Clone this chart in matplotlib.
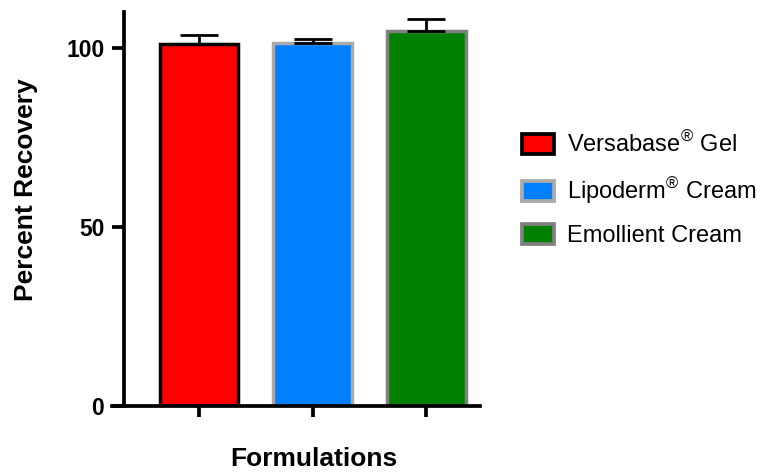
import numpy as np
import matplotlib.pyplot as plt
from matplotlib.patches import Patch

plt.rcParams['font.family'] = ['Liberation Sans', 'DejaVu Sans']
plt.rcParams['mathtext.fontset'] = 'custom'
plt.rcParams['mathtext.rm'] = 'Liberation Sans'

# donnees
formulations = ["Versabase$^{®}$ Gel", "Lipoderm$^{®}$ Cream", "Emollient Cream"]
recovery = [101.0, 101.2, 104.6]
erreur = [2.6, 1.2, 3.4]

couleurs = ['#ff0000', '#0080ff', '#008000']
bords = ['#000000', '#aaaaaa', '#808080']

fig = plt.figure(figsize=(7.64, 4.73), dpi=100)
ax = fig.add_axes([0.162, 0.142, 0.466, 0.833])

x = np.arange(len(formulations))
ax.bar(x, recovery, width=0.69, color=couleurs, edgecolor=bords, linewidth=2.5, zorder=2)
ax.errorbar(x, recovery, yerr=[np.zeros(len(erreur)), erreur], fmt='none',
            ecolor='black', elinewidth=2, capsize=13.5, capthick=2, zorder=3)

ax.set_xlim(-0.66, 2.47)
ax.set_ylim(0, 110)
ax.set_yticks([0, 50, 100])
ax.set_xticks(x)
ax.set_xticklabels([])
for s in ['top', 'right']:
    ax.spines[s].set_visible(False)
for s in ['left', 'bottom']:
    ax.spines[s].set_linewidth(2.7)
ax.spines['bottom'].set_bounds(-0.76, 2.47)
ax.tick_params(axis='y', length=9, width=2.7, labelsize=16.5, pad=5)
ax.tick_params(axis='x', length=8, width=2.7)
for t in ax.get_yticklabels():
    t.set_fontweight('bold')

# titres des axes
fig.text(0.034, 0.598, "Percent Recovery", rotation=90, fontsize=19, fontweight='bold',
         ha='center', va='center')
fig.text(0.411, 0.014, "Formulations", fontsize=19, fontweight='bold',
         ha='center', va='baseline')

poignees = [Patch(facecolor=c, edgecolor=b, linewidth=2.7) for c, b in zip(couleurs, bords)]
fig.legend(poignees, formulations, loc='center left', bbox_to_anchor=(0.683, 0.60),
           frameon=False, fontsize=17, handlelength=1.36, handleheight=0.93,
           labelspacing=0.75, handletextpad=0.55, borderpad=0, borderaxespad=0)

plt.savefig("out.png", dpi=100)
